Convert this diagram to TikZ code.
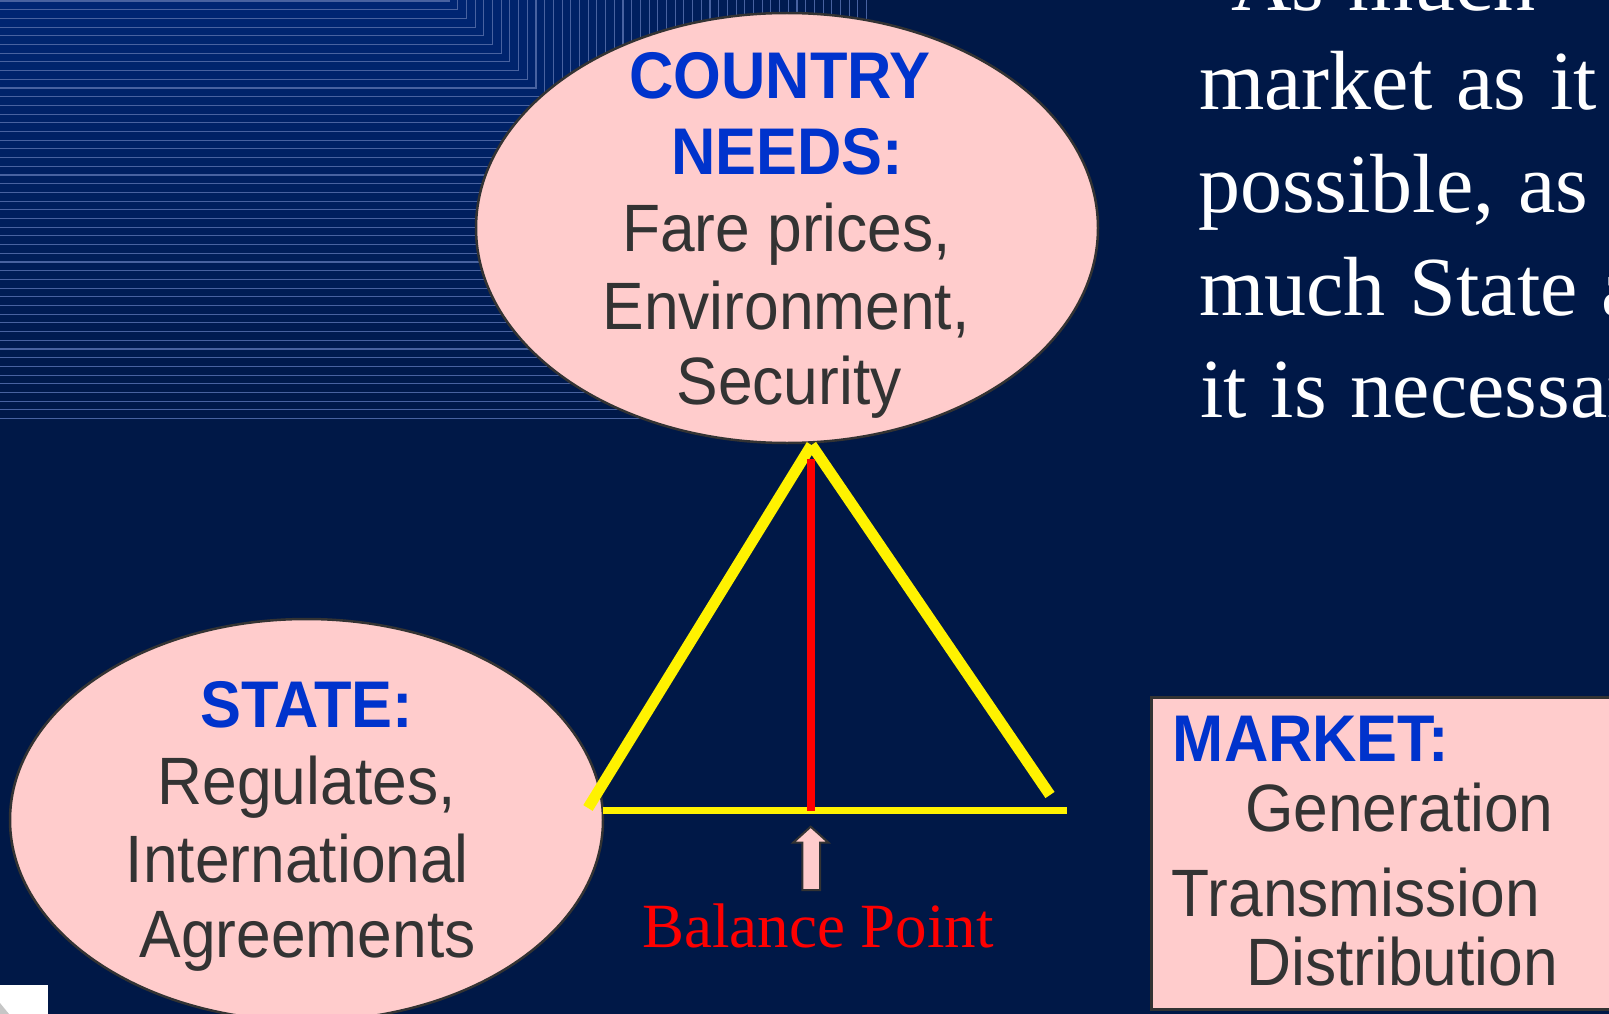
\documentclass[tikz,border=0pt]{standalone}
\usepackage{fontspec}
\usetikzlibrary{shapes.geometric}
\newfontfamily\arialn[FakeStretch=0.93]{Liberation Sans}
\newfontfamily\timesf{Liberation Serif}
\definecolor{navy}{RGB}{0,24,71}
\definecolor{bluetop}{RGB}{0,38,116}
\definecolor{stripe}{RGB}{72,98,160}
\definecolor{pinkfill}{RGB}{255,204,204}
\definecolor{edgegray}{RGB}{51,51,51}
\definecolor{headblue}{RGB}{0,51,204}
\definecolor{txtgray}{RGB}{51,51,51}
\tikzset{
  hd/.style={anchor=base, inner sep=0pt, text=headblue, font={\arialn\bfseries\fontsize{66}{66}\selectfont}},
  bd/.style={anchor=base, inner sep=0pt, text=txtgray, font={\arialn\fontsize{67}{67}\selectfont}},
  hdw/.style={hd, anchor=base west},
  bdw/.style={bd, anchor=base west},
  bubble/.style={ellipse, draw=edgegray, line width=2.5pt, fill=pinkfill, inner sep=0pt, outer sep=0pt},
  wt/.style={anchor=base west, inner sep=0pt, text=white, font={\timesf\fontsize{84}{84}\selectfont\spaceskip=24pt\relax}},
  yleg/.style={draw=yellow, line width=11pt},
  ybase/.style={draw=yellow, line width=7.5pt},
  rline/.style={draw=red, line width=8pt},
  blockarrow/.style={fill=pinkfill, draw=edgegray, line width=2pt, line join=miter},
}
\begin{document}
\begin{tikzpicture}[x=1pt,y=-1pt]
\useasboundingbox (0,0) rectangle (1609,1014);
\clip (0,0) rectangle (1609,1014);
\fill[navy] (0,0) rectangle (1609,1014);
% stepped background decoration
\foreach \i in {48,47,...,0}{
  \pgfmathsetmacro{\yy}{1+8.7*\i}
  \pgfmathsetmacro{\xx}{448+\yy}
  \pgfmathtruncatemacro{\pp}{100-2*\i}
  \fill[bluetop!\pp!navy] (0,0) rectangle (\xx,\yy);
}
\foreach \i in {0,...,48}{
  \pgfmathsetmacro{\yy}{1+8.7*\i}
  \pgfmathsetmacro{\xx}{448+\yy}
  \draw[stripe, line width=1.1pt] (0,\yy) -- (\xx,\yy) -- (\xx,0);
}
% white corner icon
\fill[white] (0,985) rectangle (48,1014);
\fill[gray!45] (0,1003) -- (9,1014) -- (0,1014) -- cycle;

% right text
\node[wt] (w0) at (1231,11) {As much};
\node[wt] (w1) at (1199,110) {market as it};
\node[wt] (w2) at (1198,212) {possible, as};
\node[wt] (w3) at (1199,315) {much State as};
\node[wt] (w4) at (1200,417) {it is necessary};

% ellipses
\node[bubble, minimum width=622pt, minimum height=430pt] (country) at (787,228) {};
\node[bubble, minimum width=593pt, minimum height=402pt] (state) at (306.5,820) {};
\node[rectangle, draw=edgegray, line width=2.5pt, fill=pinkfill, anchor=north west,
      minimum width=520pt, minimum height=312pt, inner sep=0pt] (market) at (1150,696) {};

% country text
\node[hd] (c1) at (780,99) {COUNTRY};
\node[hd] (c2) at (787,175) {NEEDS:};
\node[bd] (c3) at (786.5,251) {Fare prices,};
\node[bd] (c4) at (786,329) {Environment,};
\node[bd] (c5) at (789,404.5) {Security};

% state text
\node[hd] (s1) at (306.7,727.6) {STATE:};
\node[bd] (s2) at (306.6,804.4) {Regulates,};
\node[bd] (s3) at (297.4,882.3) {International};
\node[bd] (s4) at (307.6,957.3) {Agreements};

% market text
\node[hdw] (m1) at (1172.7,761.7) {MARKET:};
\node[bdw] (m2) at (1245,831.7) {Generation};
\node[bdw] (m3) at (1171.7,916.7) {Transmission};
\node[bdw] (m4) at (1246,985) {Distribution};

% triangle
\coordinate (apex) at (811.5,445);
\coordinate (tl) at (588,808);
\coordinate (tr) at (1050,795);
\coordinate (bl) at (603,810.7);
\coordinate (br) at (1067,810.7);
\coordinate (rtop) at (810.7,459);
\coordinate (rbot) at (810.7,810.7);
\draw[yleg] (tl) -- (apex);
\draw[yleg] (apex) -- (tr);
\draw[ybase] (bl) -- (br);
\draw[rline] (rtop) -- (rbot);

% balance arrow
\draw[blockarrow] (810.7,826.7) -- (828.3,842.5) -- (820,842.5) -- (820,890) -- (802.3,890) -- (802.3,842.5) -- (793.3,842.5) -- cycle;
\node[anchor=base west, inner sep=0pt, text=red, font={\timesf\fontsize{63}{63}\selectfont}] (bp) at (642,947) {Balance Point};
\end{tikzpicture}
\end{document}
